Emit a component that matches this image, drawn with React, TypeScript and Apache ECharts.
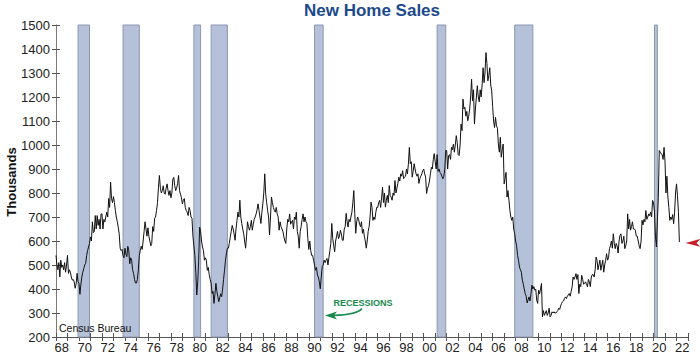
import React, { useEffect, useRef } from "react";
import * as echarts from "echarts";

// ---- Data (thousands, SAAR), monthly from Jan 1968 ----
const START_YEAR = 1968;
const END_YEAR = 2023;

const sales1968to1979: number[] = [
  540, 499, 480, 510, 450, 520, 490, 500, 480, 510, 470, 500,
  540, 465, 480, 470, 450, 437, 440, 430, 403, 420, 465, 430,
  424, 378, 420, 450, 470, 485, 500, 507, 540, 560, 575, 590,
  617, 600, 680, 635, 640, 706, 650, 706, 665, 690, 650, 713,
  713, 650, 690, 680, 700, 720, 700, 777, 740, 845, 777, 760,
  785, 760, 727, 700, 680, 658, 630, 570, 560, 565, 540, 530,
  570, 545, 535, 578, 560, 505, 530, 520, 480, 465, 440, 425,
  425, 440, 480, 540, 560, 578, 565, 600, 640, 680, 650, 620,
  655, 620, 600, 580, 590, 660, 640, 695, 700, 727, 760, 824,
  873, 820, 800, 810, 830, 800, 795, 820, 838, 810, 790, 810,
  780, 800, 858, 865, 830, 810, 820, 840, 873, 810, 795, 780,
  755, 770, 777, 740, 727, 720, 706, 740, 727, 700, 695, 620,
];
const sales1980s: number[] = [
  580, 540, 470, 375, 430, 520, 658, 640, 600, 575, 560, 520,
  530, 520, 478, 490, 460, 440, 424, 381, 390, 340, 380, 424,
  390, 368, 347, 365, 380, 368, 400, 440, 478, 520, 550, 570,
  570, 590, 617, 640, 665, 650, 630, 603, 650, 686, 720, 700,
  770, 700, 673, 650, 630, 600, 570, 620, 680, 660, 645, 660,
  686, 645, 670, 690, 700, 713, 730, 755, 727, 700, 673, 720,
  755, 800, 880, 795, 760, 727, 700, 625, 700, 783, 760, 740,
  727, 720, 740, 713, 700, 645, 680, 660, 650, 640, 617, 600,
  590, 650, 690, 680, 713, 670, 680, 686, 650, 700, 690, 720,
  640, 620, 570, 640, 660, 690, 713, 680, 700, 680, 673, 610,
];
const sales1990s: number[] = [
  565, 600, 560, 540, 540, 520, 500, 478, 490, 458, 450, 430,
  401, 450, 493, 500, 520, 510, 520, 527, 500, 530, 560, 590,
  673, 610, 580, 555, 600, 620, 640, 610, 620, 645, 630, 603,
  603, 650, 660, 715, 680, 658, 690, 680, 700, 720, 760, 810,
  715, 632, 680, 700, 690, 670, 660, 680, 632, 650, 620, 600,
  570, 600, 640, 660, 700, 762, 740, 686, 700, 690, 720, 741,
  740, 760, 769, 740, 780, 824, 760, 800, 741, 770, 790, 760,
  831, 790, 783, 770, 800, 790, 852, 800, 820, 840, 866, 850,
  880, 870, 893, 860, 866, 870, 900, 880, 920, 990, 922, 930,
  866, 890, 922, 900, 880, 870, 880, 840, 860, 870, 880, 893,
];
const sales2000s: number[] = [
  900, 880, 866, 798, 820, 830, 850, 880, 907, 900, 940, 964,
  930, 900, 960, 890, 900, 886, 880, 870, 859, 870, 900, 977,
  977, 900, 956, 960, 940, 990, 980, 1004, 970, 1000, 1039, 1010,
  960, 956, 1000, 1087, 1060, 1191, 1150, 1157, 1120, 1140, 1101, 1120,
  1150, 1200, 1274, 1184, 1230, 1087, 1150, 1200, 1247, 1200, 1180, 1230,
  1200, 1250, 1322, 1260, 1300, 1385, 1340, 1267, 1290, 1322, 1250, 1226,
  1160, 1100, 1073, 1115, 1080, 1070, 1000, 970, 1032, 949, 980, 1004,
  838, 860, 886, 783, 810, 770, 727, 700, 686, 700, 650, 630,
  600, 580, 540, 520, 492, 480, 470, 437, 420, 400, 381, 370,
  342, 355, 367, 350, 380, 416, 400, 410, 395, 400, 354, 340,
];
const sales2010s: number[] = [
  395, 380, 400, 423, 284, 310, 290, 300, 310, 290, 300, 320,
  284, 290, 305, 300, 305, 300, 300, 305, 310, 320, 315, 330,
  340, 347, 350, 360, 367, 360, 370, 375, 381, 370, 390, 409,
  450, 440, 450, 464, 440, 460, 381, 420, 410, 457, 440, 420,
  423, 430, 420, 409, 440, 430, 410, 450, 460, 460, 450, 480,
  533, 520, 480, 500, 520, 478, 500, 520, 470, 500, 520, 547,
  520, 530, 568, 580, 600, 570, 630, 590, 568, 590, 580, 550,
  600, 624, 630, 590, 600, 620, 568, 580, 600, 713, 650, 690,
  645, 660, 680, 650, 650, 645, 620, 620, 600, 580, 568, 600,
  686, 667, 690, 680, 727, 690, 700, 713, 705, 720, 700, 769,
];
const sales2020s: number[] = [
  760, 720, 620, 575, 680, 780, 977, 970, 963, 960, 940, 990,
  930, 800, 870, 783, 740, 686, 700, 690, 710, 672, 720, 800,
  838, 790, 720, 596,
];

// recession: [peakYear, peakMonth, troughYear, troughMonth]
const recessions: number[][] = [
  [1969, 12, 1970, 11],
  [1973, 11, 1975, 3],
  [1980, 1, 1980, 7],
  [1981, 7, 1982, 11],
  [1990, 7, 1991, 3],
  [2001, 3, 2001, 11],
  [2007, 12, 2009, 6],
  [2020, 2, 2020, 4],
];

const yearLabels: string[] = [
  "68", "69", "70", "71", "72", "73", "74", "75", "76", "77", "78", "79",
  "80", "81", "82", "83", "84", "85", "86", "87", "88", "89",
  "90", "91", "92", "93", "94", "95", "96", "97", "98", "99",
  "00", "01", "02", "03", "04", "05", "06", "07", "08", "09",
  "10", "11", "12", "13", "14", "15", "16", "17", "18", "19",
  "20", "21", "22",
];

const Y_MIN = 200;
const Y_MAX = 1500;
const Y_STEP = 100;

const FONT = "'Liberation Sans', Arial, Helvetica, sans-serif";

export default function App() {
  const ref = useRef<HTMLDivElement>(null);

  useEffect(() => {
    if (!ref.current) return;
    const chart = echarts.init(ref.current, undefined, { renderer: "svg" });

    const all = [
      ...sales1968to1979,
      ...sales1980s,
      ...sales1990s,
      ...sales2000s,
      ...sales2010s,
      ...sales2020s,
    ];
    const lineData = all.map((v, i) => [START_YEAR + i / 12, v]);
    const last = lineData[lineData.length - 1];

    const areas = recessions.map(([py, pm, ty, tm]) => [
      { xAxis: py + (pm - 1) / 12 },
      { xAxis: ty + tm / 12 },
    ]);

    const axisGray = "#7a7a7a";
    const tickGray = "#555";

    chart.setOption({
      animation: false,
      backgroundColor: "#fff",
      grid: {
        left: 56,
        right: 12,
        top: 25,
        bottom: 19,
        containLabel: false,
        outerBoundsMode: "none",
      },
      xAxis: [
        {
          type: "category",
          data: yearLabels,
          boundaryGap: true,
          position: "bottom",
          axisLine: { show: true, lineStyle: { color: tickGray, width: 1 } },
          axisTick: {
            show: true,
            interval: 0,
            length: 4,
            alignWithLabel: false,
            lineStyle: { color: tickGray, width: 1 },
          },
          axisLabel: {
            interval: 1,
            margin: 4,
            color: "#222",
            fontSize: 13,
            fontFamily: FONT,
          },
          splitLine: { show: false },
        },
        {
          type: "value",
          min: START_YEAR,
          max: END_YEAR,
          show: false,
        },
        {
          type: "category",
          data: yearLabels,
          boundaryGap: true,
          position: "bottom",
          axisLine: { show: false },
          axisTick: {
            show: true,
            inside: true,
            interval: 0,
            length: 4,
            lineStyle: { color: tickGray, width: 1 },
          },
          axisLabel: { show: false },
          splitLine: { show: false },
        },
      ],
      yAxis: [
        {
          type: "value",
          min: Y_MIN,
          max: Y_MAX,
          interval: Y_STEP,
          position: "left",
          axisLine: { show: true, lineStyle: { color: axisGray, width: 1 } },
          axisTick: { show: true, length: 4, lineStyle: { color: tickGray } },
          axisLabel: {
            margin: 6,
            color: "#222",
            fontSize: 13,
            fontFamily: FONT,
            formatter: (v: number) => String(v),
          },
          splitLine: { show: false },
        },
        {
          type: "value",
          min: Y_MIN,
          max: Y_MAX,
          interval: Y_STEP,
          position: "left",
          axisLine: { show: false },
          axisTick: { show: true, inside: true, length: 4, lineStyle: { color: tickGray } },
          axisLabel: { show: false },
          splitLine: { show: false },
        },
      ],
      series: [
        {
          type: "line",
          xAxisIndex: 1,
          yAxisIndex: 0,
          data: [],
          z: 1,
          silent: true,
          markArea: {
            silent: true,
            itemStyle: {
              color: "rgb(181,193,217)",
              borderColor: "rgb(140,151,176)",
              borderWidth: 1,
            },
            data: areas,
          },
        },
        {
          type: "line",
          name: "New Home Sales",
          xAxisIndex: 1,
          yAxisIndex: 0,
          data: lineData,
          showSymbol: false,
          symbol: "none",
          z: 3,
          lineStyle: { color: "#111", width: 1 },
          markPoint: {
            silent: true,
            symbol: "path://M0,5 L15,0 L11,5 L15,10 Z",
            symbolSize: [15, 8],
            symbolOffset: [5, 1],
            itemStyle: { color: "#c8202a" },
            label: { show: false },
            data: [{ coord: [END_YEAR, last[1]] }],
          },
        },
      ],
      graphic: [
        {
          type: "text",
          x: 372,
          y: 2,
          style: {
            text: "New Home Sales",
            fill: "#1b4a8c",
            font: `bold 17px ${FONT}`,
            textAlign: "center",
            textVerticalAlign: "top",
          },
        },
        {
          type: "text",
          x: 11,
          y: 182,
          rotation: Math.PI / 2,
          style: {
            text: "Thousands",
            fill: "#111",
            font: `bold 13px ${FONT}`,
            textAlign: "center",
            textVerticalAlign: "middle",
          },
        },
        {
          type: "text",
          x: 59,
          y: 327.5,
          style: {
            text: "Census Bureau",
            fill: "#111",
            font: `10.5px ${FONT}`,
            textAlign: "left",
            textVerticalAlign: "middle",
          },
          z: 10,
        },
        {
          type: "text",
          x: 363,
          y: 302.5,
          style: {
            text: "RECESSIONS",
            fill: "#17894b",
            font: `bold 9px ${FONT}`,
            textAlign: "center",
            textVerticalAlign: "middle",
          },
          z: 10,
        },
        {
          type: "bezierCurve",
          shape: { x1: 362, y1: 308.5, cpx1: 358, cpy1: 314.5, x2: 333, y2: 315.5 },
          style: { stroke: "#17894b", lineWidth: 1.5, fill: "none" },
          z: 10,
        },
        {
          type: "polygon",
          shape: { points: [[325, 315.5], [337, 311.5], [334, 315.5], [337, 319.5]] },
          style: { fill: "#17894b" },
          z: 10,
        },
      ],
    });

    return () => chart.dispose();
  }, []);

  return (
    <div
      ref={ref}
      style={{ position: "absolute", left: 0, top: 0, width: 700, height: 356, background: "#fff" }}
    />
  );
}
